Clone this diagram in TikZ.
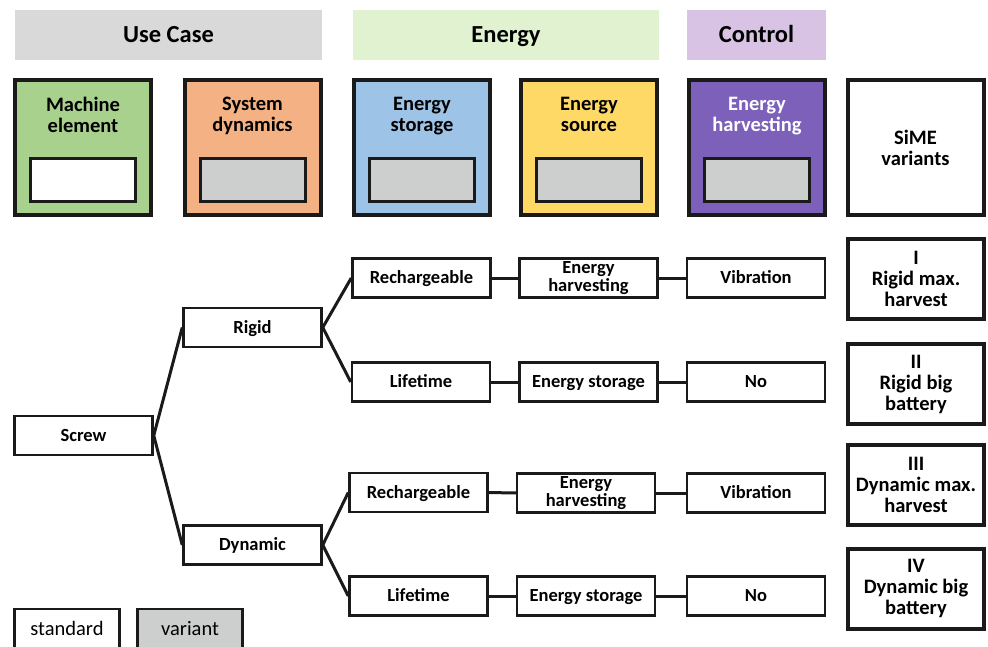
\documentclass[tikz,border=0pt]{standalone}
\usepackage{fontspec}
\setmainfont{Carlito}
\usetikzlibrary{positioning}
\definecolor{usecasegrey}{RGB}{217, 217, 217}
\definecolor{energygreen}{RGB}{224, 242, 208}
\definecolor{controlpurple}{RGB}{216, 195, 229}
\definecolor{machinegreen}{RGB}{169, 209, 142}
\definecolor{dynorange}{RGB}{244, 177, 131}
\definecolor{storeblue}{RGB}{157, 195, 230}
\definecolor{sourceyellow}{RGB}{255, 217, 102}
\definecolor{harvestpurple}{RGB}{124, 96, 186}
\definecolor{variantgrey}{RGB}{205, 207, 206}
\definecolor{linegrey}{RGB}{26, 26, 26}

\tikzset{
    header/.style={fill=#1, minimum height=50pt, inner sep=0pt,
        text height=15.5pt, text depth=0pt,
        font=\fontsize{24.5}{28}\selectfont\bfseries},
    catbox/.style={draw=linegrey, line width=4pt, fill=#1,
        minimum width=136pt, minimum height=135pt, inner sep=0pt},
    cattext/.style={align=center, anchor=north, inner sep=0pt,
        font=\fontsize{20.5}{21}\selectfont\bfseries},
    innerbox/.style={draw=linegrey, line width=3pt, fill=#1,
        minimum width=105pt, minimum height=43pt, inner sep=0pt},
    treebox/.style={draw=linegrey, line width=2.5pt, fill=white,
        minimum width=138pt, minimum height=39pt, inner sep=0pt, align=center,
        text height=11.7pt, text depth=0pt,
        font=\fontsize{18.5}{18}\selectfont\bfseries},
    twoline/.style={text height=, text depth=},
    simebox/.style={draw=linegrey, line width=4pt, fill=white,
        minimum width=136pt, minimum height=80pt, inner sep=0pt, align=center,
        font=\fontsize{20.5}{21}\selectfont\bfseries},
    legendbox/.style={draw=linegrey, line width=2.5pt, fill=#1,
        minimum width=105pt, minimum height=40pt, inner sep=0pt,
        text height=13pt, text depth=0pt,
        font=\fontsize{20.5}{21}\selectfont},
    link/.style={draw=linegrey, line width=3pt},
}

\begin{document}
\begin{tikzpicture}[x=1pt, y=-1pt]
    \useasboundingbox (0,0) rectangle (988,647);

    % the three headers on top
    \node[header=usecasegrey, minimum width=307pt] (hdusecase) at (168.5,35) {Use Case};
    \node[header=energygreen, minimum width=306pt] (hdenergy) at (506,35) {Energy};
    \node[header=controlpurple, minimum width=139pt] (hdcontrol) at (756.5,35) {Control};

    % one coloured box per category, each with a small standard / variant box inside
    \foreach \cat / \x / \colour / \txtcol / \inner / \txt in {
                machine/83/machinegreen/black/white/{Machine\\element},
                dynamics/252.5/dynorange/black/variantgrey/{System\\dynamics},
                storage/422/storeblue/black/variantgrey/{Energy\\storage},
                source/589/sourceyellow/black/variantgrey/{Energy\\source},
                harvest/757/harvestpurple/white/variantgrey/{Energy\\harvesting}} {
        \node[catbox=\colour] (cat\cat) at (\x,147.5) {};
        \node[cattext, text=\txtcol] (cattxt\cat) at ([yshift=-19pt]cat\cat.north) {\txt};
        \node[innerbox=\inner] (inner\cat) at (\x,180) {};
    }
    \node[catbox=white, align=center, font=\fontsize{20.5}{21}\selectfont\bfseries]
        (catsime) at (915.5,147.5) {SiME\\variants};

    % the decision tree
    \node[treebox] (screw) at (83.5,435.5) {Screw};
    \node[treebox] (rigid) at (252.5,327.5) {Rigid};
    \node[treebox] (dynamic) at (252.5,545) {Dynamic};

    \node[treebox] (rechone) at (421.5,278) {Rechargeable};
    \node[treebox] (lifeone) at (421,382) {Lifetime};
    \node[treebox] (rechtwo) at (418.5,492.5) {Rechargeable};
    \node[treebox] (lifetwo) at (418.5,596) {Lifetime};

    \node[treebox, twoline] (harvone) at (588.5,278) {Energy\\harvesting};
    \node[treebox] (storone) at (588.5,382) {Energy storage};
    \node[treebox, twoline] (harvtwo) at (586,493) {Energy\\harvesting};
    \node[treebox] (stortwo) at (586,596) {Energy storage};

    \node[treebox] (vibone) at (756,278) {Vibration};
    \node[treebox] (noone) at (756,382) {No};
    \node[treebox] (vibtwo) at (756,493) {Vibration};
    \node[treebox] (notwo) at (756,596) {No};

    % resulting variants
    \node[simebox] (simeone) at (916,279) {I\\Rigid max.\\harvest};
    \node[simebox] (simetwo) at (916,384) {II\\Rigid big\\battery};
    \node[simebox] (simethree) at (916,485) {III\\Dynamic max.\\harvest};
    \node[simebox] (simefour) at (916,588.5) {IV\\Dynamic big\\battery};

    % branches
    \draw[link] (screw.east) -- (rigid.west);
    \draw[link] (screw.east) -- (dynamic.west);
    \draw[link] (rigid.east) -- (rechone.west);
    \draw[link] (rigid.east) -- (lifeone.west);
    \draw[link] (dynamic.east) -- (rechtwo.west);
    \draw[link] (dynamic.east) -- (lifetwo.west);

    % straight chains to the right
    \foreach \a / \b / \c in {rechone/harvone/vibone, lifeone/storone/noone,
                              rechtwo/harvtwo/vibtwo, lifetwo/stortwo/notwo} {
        \draw[link] (\a) -- (\b);
        \draw[link] (\b) -- (\c);
    }

    % legend
    \node[legendbox=white] (lgstandard) at (67,629) {standard};
    \node[legendbox=variantgrey] (lgvariant) at (190,629) {variant};
\end{tikzpicture}
\end{document}
